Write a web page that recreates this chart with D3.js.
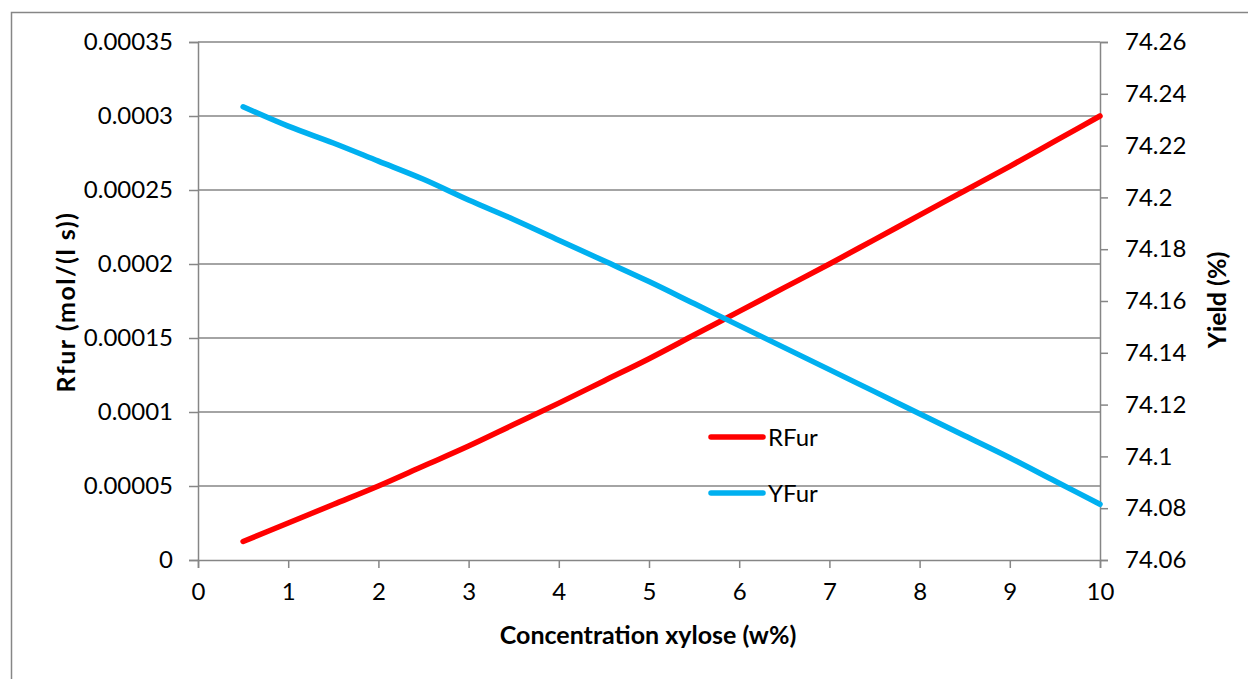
<!DOCTYPE html>
<html>
<head>
<meta charset="utf-8">
<script src="https://cdn.jsdelivr.net/npm/d3@7"></script>
<style>
  html, body { margin: 0; padding: 0; background: #fff; }
  svg { display: block; font-family: Lato, "Open Sans", sans-serif; }
</style>
</head>
<body>
<svg id="chart" width="1248" height="679"></svg>
<script>
// Xylose concentration (w%)
const concentration = [0.5, 1, 1.5, 2, 2.5, 3, 3.5, 4, 4.5, 5, 5.5, 6, 6.5, 7, 7.5, 8, 8.5, 9, 9.5, 10];
// Furfural formation rate, mol/(l s)
const rFur = [0.0000125, 0.000025, 0.0000375, 0.00005, 0.0000635, 0.000077, 0.0000915, 0.000106, 0.000121, 0.000136,
              0.000152, 0.000168, 0.000184, 0.0002, 0.0002165, 0.000233, 0.0002495, 0.000266, 0.000283, 0.0003];
// Furfural yield, %
const yFur = [74.235, 74.2275, 74.221, 74.214, 74.207, 74.199, 74.1915, 74.1835, 74.1755, 74.1675,
              74.159, 74.1505, 74.142, 74.1335, 74.125, 74.1165, 74.108, 74.0995, 74.0905, 74.0815];

const xTicks = [0, 1, 2, 3, 4, 5, 6, 7, 8, 9, 10];
const leftTicks = [0, 0.00005, 0.0001, 0.00015, 0.0002, 0.00025, 0.0003, 0.00035];
const leftTickLabels = ["0", "0.00005", "0.0001", "0.00015", "0.0002", "0.00025", "0.0003", "0.00035"];
const rightTicks = [74.06, 74.08, 74.1, 74.12, 74.14, 74.16, 74.18, 74.2, 74.22, 74.24, 74.26];
const rightTickLabels = ["74.06", "74.08", "74.1", "74.12", "74.14", "74.16", "74.18", "74.2", "74.22", "74.24", "74.26"];

const seriesNames = ["RFur", "YFur"];
const seriesColors = ["#FF0000", "#00B0F0"];

const svg = d3.select("#chart");
const plot = { left: 198, right: 1100, top: 42, bottom: 560 };
const axisGray = "#868686";

// Chart frame
svg.append("rect")
  .attr("x", 11.5).attr("y", 12.5)
  .attr("width", 1248).attr("height", 700)
  .attr("fill", "none").attr("stroke", axisGray).attr("stroke-width", 1.5);

const x = d3.scaleLinear().domain([0, 10]).range([plot.left, plot.right]);
const yL = d3.scaleLinear().domain([0, 0.00035]).range([plot.bottom, plot.top]);
const yR = d3.scaleLinear().domain([74.06, 74.26]).range([plot.bottom, plot.top]);

// Horizontal gridlines (left axis)
svg.append("g")
  .selectAll("line")
  .data(leftTicks.slice(1))
  .join("line")
  .attr("x1", plot.left).attr("x2", plot.right)
  .attr("y1", d => yL(d)).attr("y2", d => yL(d))
  .attr("stroke", axisGray).attr("stroke-width", 1.5);

function styleAxis(g) {
  g.select(".domain").attr("stroke", axisGray).attr("stroke-width", 1.5);
  g.selectAll(".tick line").attr("stroke", axisGray).attr("stroke-width", 1.5);
  g.selectAll(".tick text").attr("fill", "#000").attr("font-size", 24)
    .attr("font-family", "Lato, 'Open Sans', sans-serif");
}

// Bottom axis
svg.append("g")
  .attr("transform", `translate(0,${plot.bottom})`)
  .call(d3.axisBottom(x).tickValues(xTicks).tickFormat(d3.format("d")).tickSizeOuter(0).tickSize(8).tickPadding(15))
  .call(styleAxis);

// Left axis
svg.append("g")
  .attr("transform", `translate(${plot.left},0)`)
  .call(d3.axisLeft(yL).tickValues(leftTicks).tickFormat((d, i) => leftTickLabels[i]).tickSizeOuter(0).tickSize(9).tickPadding(16))
  .call(styleAxis);

// Right axis
svg.append("g")
  .attr("transform", `translate(${plot.right},0)`)
  .call(d3.axisRight(yR).tickValues(rightTicks).tickFormat((d, i) => rightTickLabels[i]).tickSizeOuter(0).tickSize(8).tickPadding(17))
  .call(styleAxis);

// Series lines
const lineL = d3.line().x((d, i) => x(concentration[i])).y(d => yL(d)).curve(d3.curveMonotoneX);
const lineR = d3.line().x((d, i) => x(concentration[i])).y(d => yR(d)).curve(d3.curveMonotoneX);

svg.append("path")
  .attr("d", lineL(rFur))
  .attr("fill", "none").attr("stroke", seriesColors[0])
  .attr("stroke-width", 5.5).attr("stroke-linecap", "round").attr("stroke-linejoin", "round");

svg.append("path")
  .attr("d", lineR(yFur))
  .attr("fill", "none").attr("stroke", seriesColors[1])
  .attr("stroke-width", 5.5).attr("stroke-linecap", "round").attr("stroke-linejoin", "round");

// Legend
const legend = svg.append("g").attr("transform", "translate(711,437)");
seriesNames.forEach((name, i) => {
  const row = legend.append("g").attr("transform", `translate(0,${i * 56})`);
  row.append("line")
    .attr("x1", 0).attr("x2", 52).attr("y1", 0).attr("y2", 0)
    .attr("stroke", seriesColors[i]).attr("stroke-width", 5.5).attr("stroke-linecap", "round");
  row.append("text")
    .attr("x", 57).attr("y", 9)
    .attr("font-size", 24).attr("fill", "#000")
    .text(name);
});

// Axis titles
svg.append("text")
  .attr("x", 648).attr("y", 644)
  .attr("text-anchor", "middle")
  .attr("font-size", 25).attr("font-weight", "bold").attr("fill", "#000")
  .text("Concentration xylose (w%)");

svg.append("text")
  .attr("transform", "translate(75,302) rotate(-90)")
  .attr("text-anchor", "middle")
  .attr("font-size", 25).attr("font-weight", "bold").attr("fill", "#000")
  .attr("letter-spacing", 1.5)
  .text("Rfur (mol/(l s))");

svg.append("text")
  .attr("transform", "translate(1226,300) rotate(-90)")
  .attr("text-anchor", "middle")
  .attr("font-size", 25).attr("font-weight", "bold").attr("fill", "#000")
  .text("Yield (%)");
</script>
</body>
</html>
